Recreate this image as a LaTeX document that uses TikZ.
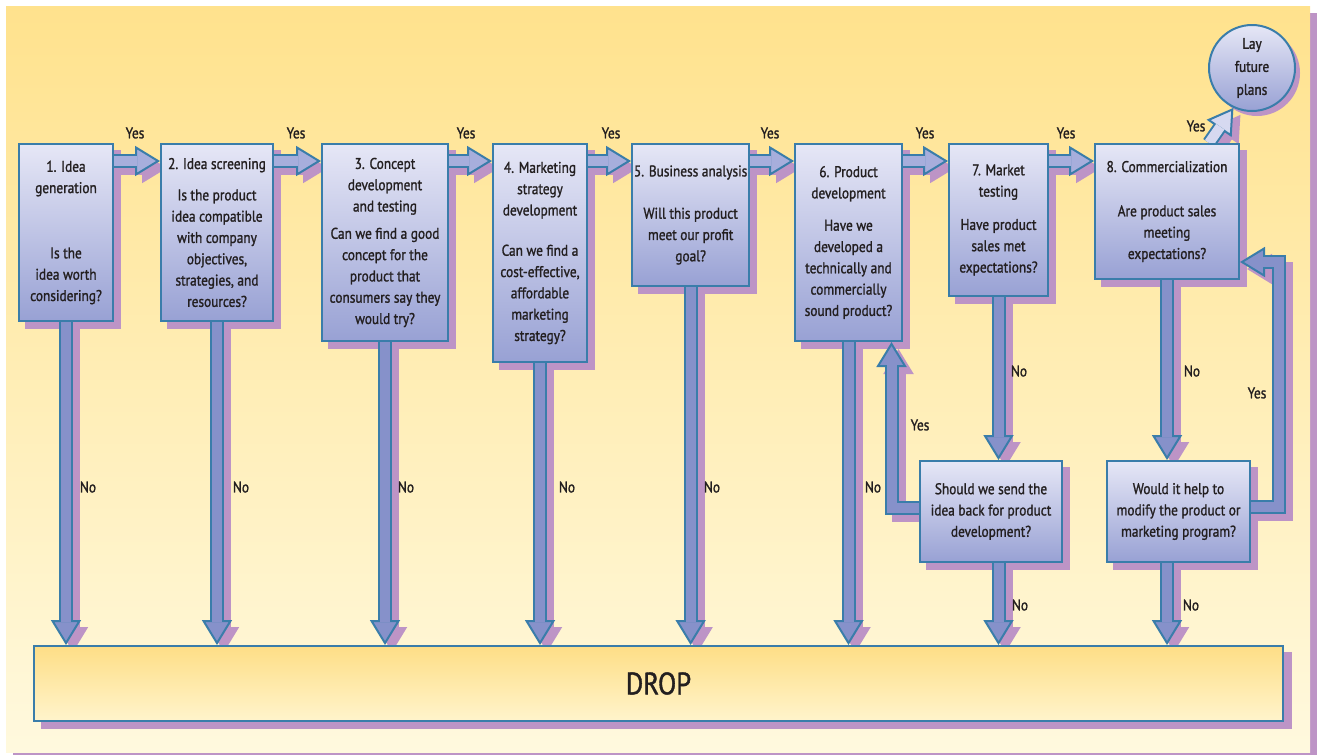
\documentclass[tikz,border=0pt]{standalone}
\usepackage{fontspec}
\setmainfont{PT Sans}[FakeStretch=0.86,FakeBold=1.3]
\usetikzlibrary{arrows.meta,calc,positioning}

\definecolor{panelTop}{HTML}{FFE28D}
\definecolor{panelMid}{HTML}{FFE7A4}
\definecolor{panelBot}{HTML}{FFF9DE}
\definecolor{shadowcol}{HTML}{BD94C6}
\definecolor{bordercol}{HTML}{3A7DAA}
\definecolor{boxTop}{HTML}{E6E7F6}
\definecolor{boxBot}{HTML}{98A1D4}
\definecolor{arrowfill}{HTML}{A7AEDC}
\definecolor{arrowdark}{HTML}{8691CA}
\definecolor{arrowpale}{HTML}{D6D9F0}
\definecolor{dropTop}{HTML}{FEDE86}
\definecolor{dropBot}{HTML}{FFF4CC}
\definecolor{textcol}{HTML}{231F20}

\pgfdeclarelayer{panel}
\pgfdeclarelayer{shade}
\pgfdeclarelayer{arrowlayer}
\pgfsetlayers{panel,shade,arrowlayer,main}

\tikzset{
  stepbox/.style={draw=bordercol, line width=2pt, top color=boxTop, bottom color=boxBot,
    anchor=north west, align=center, inner sep=2pt, text=textcol,
    font=\fontsize{15.5}{21.3}\selectfont},
  dropbox/.style={draw=bordercol, line width=2pt, top color=dropTop, bottom color=dropBot,
    anchor=north west, text=textcol, font=\fontsize{31}{36}\selectfont},
  laycircle/.style={circle, draw=bordercol, line width=2pt, top color=boxTop, bottom color=boxBot,
    minimum size=86pt, inner sep=0pt, align=center, text=textcol,
    font=\fontsize{15.5}{23}\selectfont},
  lbl/.style={text=textcol, font=\fontsize{15.5}{18}\selectfont, inner sep=1pt},
  arrowshadow/.style={draw=shadowcol, line width=14pt,
    -{Triangle[width=30pt,length=25pt,line width=2pt,fill=shadowcol]},
    transform canvas={xshift=7pt,yshift=-7pt}},
  arrowout/.style={draw=bordercol, line width=14pt,
    -{Triangle[width=30pt,length=25pt,line width=2pt,fill=#1]}},
  arrowin/.style={draw=#1, line width=10pt, shorten >=23pt}
}

\newcommand\fatarrow[2][arrowfill]{%
  \begin{pgfonlayer}{shade}
    \draw[arrowshadow] #2;
  \end{pgfonlayer}
  \begin{pgfonlayer}{arrowlayer}
    \draw[arrowout=#1] #2;
    \draw[arrowin=#1] #2;
  \end{pgfonlayer}}

\begin{document}
\begin{tikzpicture}[x=1pt,y=1pt,yscale=-1,xscale=1]
\useasboundingbox (0,0) rectangle (1317,755);

%Shape: Panel
\begin{pgfonlayer}{panel}
\fill[shadowcol] (13,13) rectangle (1317,755);
\shade[top color=panelTop, middle color=panelMid, bottom color=panelBot] (6,6) rectangle (1310,752);
\end{pgfonlayer}

%Shape: Rectangle [id:b1]
\node[stepbox, minimum width=94pt, minimum height=177pt] (b1) at (18,143)
  {1. Idea\\generation\\[44pt]Is the\\idea worth\\considering?};
%Shape: Rectangle [id:b2]
\node[stepbox, minimum width=112pt, minimum height=177pt] (b2) at (160,143)
  {2. Idea screening\\[10pt]Is the product\\idea compatible\\with company\\objectives,\\strategies, and\\resources?};
%Shape: Rectangle [id:b3]
\node[stepbox, minimum width=126pt, minimum height=197pt] (b3) at (321,143)
  {3. Concept\\development\\and testing\\[6pt]Can we find a good\\concept for the\\product that\\consumers say they\\would try?};
%Shape: Rectangle [id:b4]
\node[stepbox, minimum width=94pt, minimum height=218pt] (b4) at (492,143)
  {4. Marketing\\strategy\\development\\[19pt]Can we find a\\cost-effective,\\affordable\\marketing\\strategy?};
%Shape: Rectangle [id:b5]
\node[stepbox, minimum width=116pt, minimum height=142pt] (b5) at (631,143)
  {5. Business analysis\\[21pt]Will this product\\meet our profit\\goal?};
%Shape: Rectangle [id:b6]
\node[stepbox, minimum width=107pt, minimum height=197pt] (b6) at (794,143)
  {6. Product\\development\\[11pt]Have we\\developed a\\technically and\\commercially\\sound product?};
%Shape: Rectangle [id:b7]
\node[stepbox, minimum width=99pt, minimum height=152pt] (b7) at (948,143)
  {7. Market\\testing\\[12pt]Have product\\sales met\\expectations?};
%Shape: Rectangle [id:b8]
\node[stepbox, minimum width=144pt, minimum height=135pt] (b8) at (1094,143)
  {8. Commercialization\\[23pt]Are product sales\\meeting\\expectations?};
%Shape: Rectangle [id:send]
\node[stepbox, minimum width=142pt, minimum height=101pt] (send) at (919,460)
  {Should we send the\\idea back for product\\development?};
%Shape: Rectangle [id:modify]
\node[stepbox, minimum width=143pt, minimum height=101pt] (modify) at (1106,460)
  {Would it help to\\modify the product or\\marketing program?};
%Shape: Rectangle [id:drop]
\node[dropbox, minimum width=1249pt, minimum height=75pt] (drop) at (33,645) {DROP};
%Shape: Circle [id:lay]
\node[laycircle] (lay) at (1252,68) {Lay\\future\\plans};

%Shadows
\begin{pgfonlayer}{shade}
\foreach \n in {b1,b2,b3,b4,b5,b6,b7,b8,send,modify}
  \fill[shadowcol] ($(\n.north west)+(7,7)$) rectangle ($(\n.south east)+(7,7)$);
\fill[shadowcol] ($(drop.north west)+(8,7)$) rectangle ($(drop.south east)+(8,7)$);
\fill[shadowcol] ($(lay.center)+(5,5)$) circle (43);
\end{pgfonlayer}

%Straight Lines: Yes
\foreach \a/\b in {b1/b2,b2/b3,b3/b4,b4/b5,b5/b6,b6/b7,b7/b8}
  \fatarrow{($(\a.north east)+(0,18)$) -- ($(\b.north west)+(0,18)$)};
\fatarrow[arrowpale]{($(b8.north)+(42,0)$) -- (lay.245)};

%Straight Lines: No
\foreach \a in {b1,b2,b3,b4,b5,b6}
  \fatarrow[arrowdark]{(\a.south) -- (\a.south |- drop.north)};
\fatarrow[arrowdark]{(b7.south) -- (b7.south |- send.north)};
\fatarrow[arrowdark]{(send.south -| b7.south) -- (b7.south |- drop.north)};
\fatarrow[arrowdark]{(b8.south) -- (b8.south |- modify.north)};
\fatarrow[arrowdark]{(modify.south -| b8.south) -- (b8.south |- drop.north)};

%Elbow Lines: Yes loops
\fatarrow[arrowdark]{($(send.west)+(0,-4)$) -| ($(b6.south)+(43,0)$)};
\coordinate (ret) at (1279,262);
\fatarrow[arrowdark]{($(modify.east)+(0,-5)$) -| (ret) -- (ret -| b8.east)};

%Labels
\node[lbl] (y1) at (135,133) {Yes};
\node[lbl] (y2) at (296,133) {Yes};
\node[lbl] (y3) at (466,133) {Yes};
\node[lbl] (y4) at (611,133) {Yes};
\node[lbl] (y5) at (770,133) {Yes};
\node[lbl] (y6) at (925,133) {Yes};
\node[lbl] (y7) at (1066,133) {Yes};
\node[lbl] (y8) at (1196,126) {Yes};
\node[lbl] (y9) at (920,425) {Yes};
\node[lbl] (y10) at (1257,393) {Yes};
\node[lbl] (n1) at (88,487) {No};
\node[lbl] (n2) at (241,487) {No};
\node[lbl] (n3) at (406,487) {No};
\node[lbl] (n4) at (567,487) {No};
\node[lbl] (n5) at (712,487) {No};
\node[lbl] (n6) at (873,487) {No};
\node[lbl] (n7) at (1019,371) {No};
\node[lbl] (n8) at (1192,371) {No};
\node[lbl] (n9) at (1020,605) {No};
\node[lbl] (n10) at (1191,605) {No};

\end{tikzpicture}
\end{document}
